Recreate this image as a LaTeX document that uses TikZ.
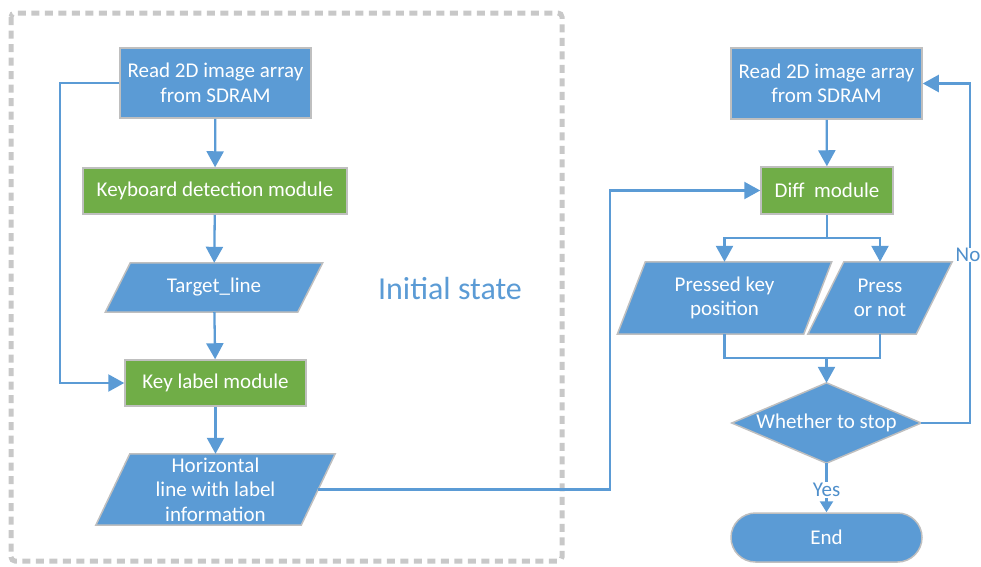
\documentclass[tikz,border=0pt]{standalone}
\usepackage{fontspec}
\setmainfont{Carlito}
\usetikzlibrary{arrows.meta,calc}
\definecolor{bfill}{HTML}{5B9BD5}
\definecolor{gfill}{HTML}{70AD47}
\definecolor{edgegray}{HTML}{BFBFBF}
\definecolor{conn}{HTML}{5B9BD5}
\definecolor{dashgray}{HTML}{C8C8C8}
\definecolor{lbl}{HTML}{4F8FCB}
\pgfdeclarelayer{bg}\pgfsetlayers{bg,main}
\begin{document}
\begin{tikzpicture}[x=1pt,y=-1pt,
  font=\fontsize{21}{24.5}\selectfont,
  base/.style={line width=1.5pt, draw=edgegray, text=white, align=center, inner sep=0pt},
  bluebox/.style={base, fill=bfill},
  greenbox/.style={base, fill=gfill},
  ghost/.style={align=center, text=white, inner sep=0pt},
  para/.style={line width=1.5pt, draw=edgegray, fill=bfill},
  arr/.style={draw=conn, line width=2.3pt, -{Triangle[length=16pt,width=17pt]}},
  line/.style={draw=conn, line width=2.3pt},
  lab/.style={fill=white, text=lbl, inner sep=1pt, font=\fontsize{21}{22}\selectfont}
]
\useasboundingbox (0,0) rectangle (981,566);

% dashed frame
\draw[dashgray, line width=5pt, dash pattern=on 8pt off 5.5pt, rounded corners=4pt]
  (11,13) rectangle (562,561);

% left column
\node[bluebox, minimum width=191pt, minimum height=70pt] (read1) at (215.5,83) {Read 2D image array\\from SDRAM};
\node[greenbox, minimum width=264pt, minimum height=46pt] (kbd) at (215,191) {Keyboard detection module};
\node[ghost, minimum width=192pt, minimum height=49pt] (tgt) at (214,287.5) {Target\_line};
\node[greenbox, minimum width=181pt, minimum height=46pt] (key) at (215.5,383) {Key label module};
\node[ghost, minimum width=205pt, minimum height=71pt] (hor) at (215.5,489.5) {Horizontal\\line with label\\information};

\node[text=bfill, font=\fontsize{32}{34}\selectfont] (init) at (450,288) {Initial state};

% right column
\node[bluebox, minimum width=191pt, minimum height=71pt] (read2) at (826.5,83.5) {Read 2D image array\\from SDRAM};
\node[greenbox, minimum width=132pt, minimum height=47pt] (diff) at (827,190.5) {Diff~~module};
\node[ghost, minimum width=186pt, minimum height=72pt] (pk) at (724.5,298) {Pressed key\\position};
\node[ghost, minimum width=108pt, minimum height=72pt] (pn) at (880,298) {Press\\or not};
\node[ghost, minimum width=189pt, minimum height=80pt] (dec) at (826.5,423) {Whether to stop};
\node[bluebox, rounded corners=24.5pt, minimum width=191pt, minimum height=49pt] (endn) at (826.5,537.5) {End};

% shapes behind text
\begin{pgfonlayer}{bg}
\path[para] ($(tgt.south west)+(-12.5,0)$) -- ($(tgt.north west)+(12.5,0)$) -- ($(tgt.north east)+(12.5,0)$) -- ($(tgt.south east)+(-12.5,0)$) -- cycle;
\path[para] ($(hor.south west)+(-17,0)$) -- ($(hor.north west)+(17,0)$) -- ($(hor.north east)+(17,0)$) -- ($(hor.south east)+(-17,0)$) -- cycle;
\path[para] ($(pk.south west)+(-14,0)$) -- ($(pk.north west)+(14,0)$) -- ($(pk.north east)+(14,0)$) -- ($(pk.south east)+(-14,0)$) -- cycle;
\path[para] ($(pn.south west)+(-18,0)$) -- ($(pn.north west)+(18,0)$) -- ($(pn.north east)+(18,0)$) -- ($(pn.south east)+(-18,0)$) -- cycle;
\path[para] (dec.west) -- (dec.north) -- (dec.east) -- (dec.south) -- cycle;
\end{pgfonlayer}

% left connectors
\draw[arr] (read1) -- (kbd);
\draw[arr] (kbd) -- (tgt);
\draw[arr] (tgt) -- (key);
\draw[arr] (key) -- (hor);
\coordinate (lp) at (60,83);
\draw[arr] (read1.west) -- (lp) |- (key.west);

% cross connector
\coordinate (j1) at (610,489.5);
\draw[arr] (hor.east) -- (j1) |- (diff.west);

% right connectors
\draw[arr] (read2) -- (diff);
\coordinate (s1) at (827,238);
\draw[line] (diff.south) -- (s1);
\draw[arr] (s1) -| (pk.north);
\draw[arr] (s1) -| (pn.north);
\coordinate (m1) at (826.5,358);
\draw[line] (pk.south) |- (m1);
\draw[line] (pn.south) |- (m1);
\draw[arr] (m1) -- (dec.north);
\draw[arr, -{Triangle[length=11pt,width=13pt]}] (dec.south) -- node[lab, pos=0.55] (yes) {Yes} (endn.north);
\coordinate (rt) at (970,423);
\draw[arr] (dec.east) -- (rt) |- (read2.east);
\node[lab, anchor=east, inner sep=0.5pt] (no) at (981,255) {No};
\end{tikzpicture}
\end{document}
